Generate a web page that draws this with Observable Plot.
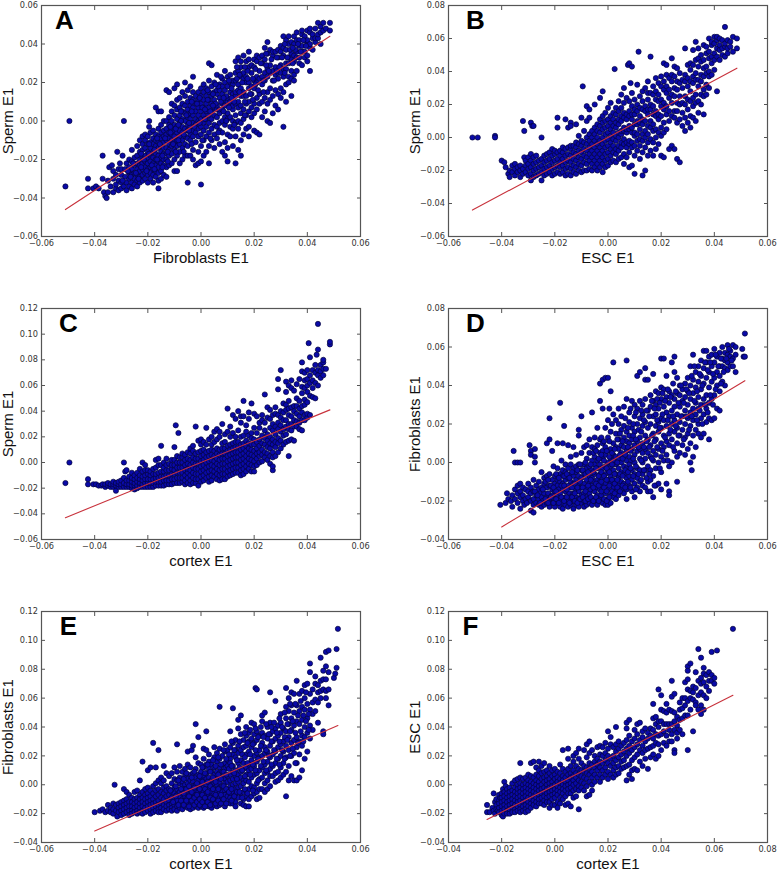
<!DOCTYPE html>
<html><head><meta charset="utf-8">
<script src="https://cdn.jsdelivr.net/npm/d3@7"></script>
<script src="https://cdn.jsdelivr.net/npm/@observablehq/plot@0.6"></script>
<style>html,body{margin:0;padding:0;background:#fff;overflow:hidden}#chart{position:relative;width:778px;height:872px}#chart svg{position:absolute;overflow:visible;background:transparent}</style>
</head><body><div id="chart"></div>
<script>
// all values are in thousandths of E1, stored as x,y,x,y,...
const pointsA=[-51,-34,-49.5,0,-42.5,-30,-42.5,-35,-40.5,-35,-39.5,-34,-38.5,-35,-37,-18,-37,-30,-36.5,-37,-36,-39,-35.5,-40,-35,-37,-35,-31,-34.5,-24,-34,-34,-33.5,-23,-33,-37,-33,-30,-33,-26,-32,-35,-32,-33,-32,-28,-31.5,-16,-31,-36,-31,-31,-31,-25,-30.5,-22,-30,-35,-30,-32,-30,-28,-30,-25,-29.5,-18,-29,-34,-29,0,-28.5,-29,-28.5,-25,-28,-36,-28,-32,-28,-22,-27,-34,-27,-30,-27,-27,-27,-24,-27,-20,-26,-35,-26,-32,-26,-28,-26,-25,-26,-21,-26,-15,-25,-33,-25,-30,-25,-27,-25,-23,-25,-19,-24,-34,-24,-31,-24,-28,-24,-25,-24,-22,-24,-18,-24,-13,-23,-32,-23,-29,-23,-26,-23,-23,-23,-20,-23,-16,-23,-10,-22,-31,-22,-28,-22,-25,-22,-22,-22,-19,-22,-15,-22,-12,-22,-8,-21,-30,-21,-27,-21,-24,-21,-21,-21,-18,-21,-14,-21,-10,-21,-7,-20,-32,-20,-28,-20,-25,-20,-22,-20,-19,-20,-16,-20,-12,-20,-8,-19.5,-3,-19.5,0,-19,-30,-19,-27,-19,-24,-19,-21,-19,-18,-19,-14,-19,-11,-19,-6,-18,-32,-18,-28,-18,-25,-18,-22,-18,-19,-18,-16,-18,-12,-18,-9,-18,-5,-17,-29,-17,-26,-17,-23,-17,-20,-17,-17,-17,-13,-17,-10,-17,-7,-17,7,-16,-35,-16,-31,-16,-27,-16,-24,-16,-21,-16,-18,-16,-14,-16,-11,-16,-8,-16,-4,-16,5,-15,-30,-15,-26,-15,-22,-15,-19,-15,-16,-15,-13,-15,-9,-15,-6,-15,-2,-15,5,-14,-28,-14,-23,-14,-20,-14,-17,-14,-14,-14,-11,-14,-8,-14,-5,-14,0,-13,-29,-13,-24,-13,-20,-13,-17,-13,-14,-13,-10,-13,-7,-13,-4,-13,0,-13,16,-12,-23,-12,-18,-12,-15,-12,-12,-12,-9,-12,-6,-12,-2,-12,2,-12,15,-11,-22,-11,-17,-11,-13,-11,-10,-11,-7,-11,-4,-11,0,-11,5,-11,9,-10,-26,-10,-20,-10,-15,-10,-11,-10,-8,-10,-5,-10,-2,-10,3,-10,8,-10,17,-9,-26,-9,-18,-9,-13,-9,-10,-9,-6,-9,-3,-9,1,-9,6,-9,11,-9,19,-8,-22,-8,-16,-8,-12,-8,-8,-8,-5,-8,-1,-8,3,-8,7,-8,12,-7,-20,-7,-14,-7,-10,-7,-6,-7,-3,-7,1,-7,5,-7,9,-7,15,-6,-18,-6,-12,-6,-8,-6,-4,-6,0,-6,4,-6,8,-6,13,-6,20,-5,-32,-5,-18,-5,-13,-5,-9,-5,-5,-5,-2,-5,2,-5,6,-5,10,-5,16,-4,-18,-4,-10,-4,-7,-4,-3,-4,1,-4,4,-4,8,-4,12,-4,18,-3,-20,-3,-15,-3,-8,-3,-5,-3,-1,-3,3,-3,7,-3,11,-3,15,-3,23,-2,-23,-2,-11,-2,-6,-2,-2,-2,1,-2,5,-2,9,-2,13,-1,-22,-1,-16,-1,-8,-1,-4,-1,0,-1,3,-1,7,-1,11,-1,15,0,-33,0,-21,0,-13,0,-7,0,-3,0,1,0,5,0,9,0,13,0,17,1,-18,1,-10,1,-5,1,-1,1,3,1,7,1,11,1,15,1,19,2,-16,2,-8,2,-3,2,1,2,5,2,9,2,13,2,17,3,-22,3,-13,3,-6,3,-1,3,3,3,7,3,11,3,15,3,21,3,30,4,-10,4,-4,4,1,4,5,4,9,4,13,4,18,4,29,5,-14,5,-7,5,-2,5,3,5,7,5,11,5,15,5,20,6,-9,6,-3,6,2,6,6,6,8,6,14,6,16,6,24,7,-12,7,-5,7,-1,7,4,7,6,7,12,7,16,7,19,8,-16,8,-6,8,0,8,6,8,9,8,14,8,18,8,22,9,-18,9,-11,9,-2,9,2,9,8,9,11,9,16,9,20,9,26,10,-21,10,-14,10,-7,10,1,10,4,10,10,10,12,10,18,10,23,11,-8,11,-3,11,2,11,8,11,10,11,15,11,20,11,24,12,-13,12,-4,12,0,12,6,12,8,12,14,12,19,12,21,13,-22,13,-8,13,-1,13,3,13,9,13,13,13,15,13,21,13,25,13,31,14,-15,14,-4,14,0,14,7,14,10,14,16,14,19,14,26,14,33,15,-18,15,-10,15,-1,15,4,15,8,15,13,15,17,15,23,15,28,15,31,16,-7,16,1,16,6,16,13,16,15,16,22,16,25,16,34,17,-4,17,3,17,9,17,13,17,20,17,23,17,31,18,-8,18,-3,18,5,18,10,18,17,18,20,18,28,18,32,18,36,19,2,19,7,19,14,19,18,19,25,19,29,20,-5,20,4,20,9,20,17,20,21,20,28,20,32,21,-6,21,6,21,12,21,20,21,23,21,31,21,34,22,-7,22,9,22,14,22,22,22,26,22,33,23,2,23,10,23,19,23,23,23,30,23,34,24,5,24,12,24,21,24,25,24,32,24,38,25,0,25,9,25,15,25,23,25,27,25,35,25,41,26,-1,26,11,26,17,26,25,26,29,26,37,27,4,27,13,27,21,27,26,27,34,27,36,28,8,28,16,28,24,28,28,28,36,29,6,29,14,29,22,29,25,29,33,29,37,30,12,30,17,30,25,30,29,30,36,30,39,31,-3,31,15,31,23,31,27,31,34,31,38,31,44,32,10,32,19,32,27,32,30,32,37,32,42,33,20,33,23,33,30,33,33,33,40,33,44,34,13,34,22,34,26,34,32,34,35,34,41,35,21,35,24,35,31,35,34,35,40,35,44,36,26,36,33,36,36,36,42,36,46,37,30,37,33,37,39,37,42,38,29,38,36,38,39,38,45,38,47,39,33,39,36,39,42,39,44,40,31,40,34,40,40,40,42,40,47,41,26,41,38,41,40,41,46,41,48,42,37,42,43,42,45,43,41,43,43,43,48,44,43,44,45,44,51,45,40,45,46,45,49,46,47,46,51,47,48,48.5,47,48.5,51];
const extraA=[-29.5,-31,-27.5,-26,-26.5,-29,-25.5,-22,-24.5,-27,-23.5,-30,-22.5,-24,-21.5,-20,-20.5,-26,-19.5,-17,-18.5,-23,-17.5,-15,-16.5,-20,-15.5,-12,-14.5,-18,-13.5,-9,-12.5,-16,-11.5,-6,-10.5,-12,-9.5,-4,-8.5,-10,-7.5,0,-6.5,-7,-5.5,3,-4.5,-5,-3.5,5,-2.5,-3,-1.5,9,-0.5,-1,0.5,7,1.5,1,2.5,11,3.5,5,4.5,14,5.5,9,6.5,18,7.5,10,8.5,5,9.5,13,10.5,7,11.5,17,12.5,10,13.5,22,14.5,15,15.5,20,16.5,10,17.5,26,18.5,14,19.5,22,20.5,27,21.5,16,22.5,30,23.5,21,24.5,35,25.5,26,26.5,32,27.5,21,28.5,33,29.5,28,30.5,33,31.5,40,32.5,33,33.5,37,34.5,30,35.5,37,36.5,40,37.5,36,38.5,42,39.5,39,-17.5,-25,-14.5,-24,-12.5,-21,-9.5,-16,-6.5,-16,-3.5,-12,0.5,-10,3.5,-9,6.5,-6,9.5,0,12.5,-2,16.5,3,19.5,11,23.5,15,-19.5,-12,-16.5,-9,-11.5,-3,-7.5,5,-3.5,10,-0.5,12,2.5,16,5.5,19,7.5,23,10.5,21,13.5,28,16.5,28,-22.5,-17,-8.5,-2,-4.5,-1,1.5,6,4.5,8,8.5,12,11.5,12,14.5,24,17.5,22,20.5,19,24.5,29,28.5,26,31.5,25,34.5,38];
const pointsB=[-51,0,-49,0,-42.5,1,-42.5,0,-40,-14,-39,-15,-38.5,-18,-37.5,-22,-37,-24,-37,-20,-36,-17,-36,-21,-35,-23,-35,-19,-35,-16,-34,-21,-34,-18,-33,-24,-33,-20,-33,-17,-32,-22,-32,-19,-32,10,-31.5,-12,-31.5,4,-31,-21,-31,-17,-31,-14,-30,-23,-30,-19,-30,-16,-30,-12,-29,-26,-29,-22,-29,-18,-29,-14,-29,-10,-29,9,-28.5,7,-28,-24,-28,-20,-28,-16,-28,-12,-28,7,-27,-23,-27,-19,-27,-15,-27,-11,-26,-22,-26,-18,-26,-14,-25,-26,-25,-21,-25,-17,-25,-13,-25,0,-24,-23,-24,-19,-24,-15,-24,-11,-23,-22,-23,-18,-23,-14,-23,-10,-22,-21,-22,-17,-22,-13,-22,-9,-21,-23,-21,-19,-21,-15,-21,-11,-21,-7,-20,-22,-20,-18,-20,-14,-20,-10,-20,-8,-19,-21,-19,-17,-19,-13,-19,-9,-19,6,-19,12,-18,-22,-18,-18,-18,-15,-18,-11,-18,-8,-17,-21,-17,-17,-17,-13,-17,-9,-17,-6,-16,-23,-16,-19,-16,-15,-16,-11,-16,-7,-16,11,-15,-22,-15,-18,-15,-14,-15,-10,-15,-6,-15,6,-14,-23,-14,-19,-14,-15,-14,-11,-14,-7,-14,-5,-14,9,-14,7,-13,-21,-13,-17,-13,-13,-13,-9,-13,-5,-12,-22,-12,-18,-12,-14,-12,-10,-12,-6,-12,-3,-12,8,-11,-20,-11,-16,-11,-12,-11,-8,-11,-4,-11,1,-10,-21,-10,-17,-10,-13,-10,-9,-10,-5,-10,-2,-10,12,-9.5,31,-9,-20,-9,-15,-9,-11,-9,-7,-9,-3,-9,4,-8,-20,-8,-16,-8,-12,-8,-8,-8,-4,-8,0,-8,10,-8,19,-7,-19,-7,-14,-7,-10,-7,-6,-7,-2,-7,2,-7,17,-7,12,-6,-20,-6,-16,-6,-12,-6,-8,-6,-4,-6,0,-6,4,-5,-18,-5,-14,-5,-10,-5,-6,-5,-2,-5,2,-5,6,-5,20,-4,-20,-4,-16,-4,-12,-4,-8,-4,-4,-4,0,-4,4,-4,8,-3,-18,-3,-14,-3,-10,-3,-6,-3,-2,-3,3,-3,7,-3,11,-3,24,-2,-21,-2,-16,-2,-12,-2,-8,-2,-4,-2,0,-2,5,-2,9,-2,13,-2,28,-1,-18,-1,-14,-1,-10,-1,-6,-1,-2,-1,2,-1,6,-1,10,-1,15,0,-17,0,-13,0,-9,0,-5,0,-1,0,3,0,7,0,11,0,18,1,-15,1,-11,1,-7,1,-3,1,1,1,5,1,9,1,13,1,21,2,-14,2,-9,2,-5,2,-1,2,3,2,7,2,11,2,15,2.5,41.5,3,-15,3,-10,3,-7,3,-2,3,1,3,6,3,9,3,14,3,18,4,-13,4,-8,4,-5,4,0,4,3,4,8,4,11,4,16,4,22,5,-12,5,-6,5,-3,5,2,5,4,5,10,5,13,5,18,5,26,6,-16,6,-10,6,-4,6,-1,6,4,6,6,6,12,6,15,6,21,6,30,7,-12,7,-6,7,-3,7,3,7,5,7,11,7,14,7,24,7.5,44,8,-18,8,-9,8,-4,8,-2,8,5,8,7,8,13,8,16,8,22,8,45,8.5,33,9,-17,9,-6,9,-3,9,3,9,6,9,11,9,14,9,19,9,27,9,43,10,-22,10,-11,10,-5,10,1,10,3,10,8,10,14,10,17,10,23,11,-8,11,-2,11,2,11,8,11,10,11,16,11,20,11,32,11.5,52,12,-13,12,-5,12,-1,12,5,12,9,12,13,12,18,12,25,13,-23,13,-9,13,-2,13,2,13,8,13,11,13,17,13,22,13,28,14,-20,14,-6,14,0,14,4,14,10,14,16,14,19,14,30,15,-11,15,-3,15,2,15,7,15,14,15,17,15,23,15,27,15,34,16,-8,16,-1,16,6,16,10,16,17,16,20,16,27,16,49,17,-11,17,-3,17,4,17,8,17,14,17,19,17,26,17,31,18,-7,18,0,18,5,18,13,18,16,18,23,18,28,18,36,19,-4,19,3,19,11,19,14,19,22,19,26,19,33,20,-11,20,1,20,6,20,13,20,19,20,23,20,31,20,37,21,-12,21,3,21,9,21,17,21,21,21,29,21,34,21,45,22,5,22,14,22,19,22,27,22,31,22,38,22,44,23,-7,23,10,23,16,23,24,23,29,23,36,24,-5,24,13,24,21,24,26,24,34,24,38,24,48,25,-7,25,12,25,16,25,25,25,30,25,37,25,43,26,-13,26,9,26,16,26,21,26,29,26,34,26,42,27,-15,27,11,27,20,27,25,27,33,27,39,28,7,28,15,28,21,28,30,28,35,29,4,29,12,29,20,29,25,29,34,29,38,29,54,30,9,30,17,30,23,30,31,30,36,30,44,31,6,31,13,31,22,31,28,31,34,31,41,31,45,32,12,32,19,32,24,32,33,32,37,32,44,32,53,33,10,33,21,33,26,33,35,33,39,33,47,33,58,34,15,34,22,34,31,34,35,34,43,34,48,34,54,35,20,35,26,35,34,35,38,35,46,35,50,36,14,36,25,36,29,36,37,36,42,36,47,36,56,37,26,37,32,37,39,37,43,37,51,37,55,38,30,38,37,38,40,38,48,38,52,38,60,39,38,39,45,39,49,39,56,39,58,40,41,40,47,40,51,40,57,40,61,41,28,41,49,41,54,41,59,41,61,42,47,42,53,42,56,42,60,43,50,43,54,43,59,44,49,44,55,44,57,44,67,45,51,45,54,45,59,46,55,46,58,47,52,47,61,48.5,54,48.5,60];
const pointsC=[-51,-16,-49.5,0,-42.5,-13,-42.5,-17,-40.5,-17,-39.5,-17,-38.5,-18,-37.5,-18,-37,-17,-36,-19,-36,-17,-35,-18,-35,-16,-34,-19,-34,-17,-33,-19,-33,-17,-33,-15,-32,-22,-32,-18,-32,-16,-31,-19,-31,-17,-31,-15,-30,-19,-30,-17,-30,-14,-29,-19,-29,-16,-29,-12,-29,0,-28.5,-7,-28,-19,-28,-17,-28,-14,-28,-6,-27,-19,-27,-17,-27,-14,-27,-11,-26,-20,-26,-18,-26,-15,-26,-12,-26,-8,-25,-21,-25,-18,-25,-16,-25,-13,-25,-10,-24,-20,-24,-18,-24,-15,-24,-12,-24,-8,-23,-19,-23,-16,-23,-13,-23,-10,-23,-5,-22,-19,-22,-17,-22,-14,-22,-11,-22,-7,-22,0,-21,-19,-21,-16,-21,-13,-21,-10,-21,-6,-21,-2,-20,-19,-20,-16,-20,-13,-20,-9,-20,-6,-19,-19,-19,-16,-19,-13,-19,-10,-19,-7,-18,-19,-18,-16,-18,-13,-18,-9,-18,-5,-17,-18,-17,-15,-17,-12,-17,-9,-17,-4,-17,2,-16,-18,-16,-15,-16,-12,-16,-8,-16,-2,-16,3,-15,-18,-15,-15,-15,-11,-15,-7,-15,-2,-15,13,-14,-18,-14,-14,-14,-11,-14,-7,-14,-4,-14,0,-13,-17,-13,-14,-13,-10,-13,-6,-13,-2,-13,3,-12,-17,-12,-14,-12,-10,-12,-6,-12,-1,-11,-17,-11,-13,-11,-9,-11,-5,-11,-2,-11,2,-10,-16,-10,-13,-10,-9,-10,-6,-10,-2,-10,2,-10,12,-9.5,29,-9,-16,-9,-12,-9,-8,-9,-4,-9,0,-9,5,-8.5,23,-8,-16,-8,-12,-8,-8,-8,-4,-8,0,-8,4,-7,-15,-7,-12,-7,-8,-7,-4,-7,0,-7,4,-7,7,-6,-17,-6,-14,-6,-10,-6,-6,-6,-2,-6,2,-6,6,-5,-16,-5,-12,-5,-8,-5,-5,-5,-1,-5,3,-5,8,-4,-17,-4,-14,-4,-10,-4,-6,-4,-2,-4,2,-4,7,-4,11,-3,-16,-3,-12,-3,-8,-3,-4,-3,0,-3,4,-3,9,-3,13,-2,-16,-2,-13,-2,-9,-2,-5,-2,-1,-2,3,-2,7,-2,28,-1,-18,-1,-13,-1,-9,-1,-5,-1,-1,-1,3,-1,8,-1,17,0,-15,0,-11,0,-7,0,-3,0,1,0,5,0,9,0,14,0,18,1,-14,1,-10,1,-6,1,-2,1,2,1,6,1,10,1,16,2,-12,2,-8,2,-4,2,0,2,4,2,8,2,14,2,27,3,-15,3,-11,3,-7,3,-3,3,1,3,5,3,9,3,18,4,-14,4,-10,4,-6,4,-2,4,2,4,6,4,10,4,14,4,20,5,-11,5,-7,5,-3,5,1,5,5,5,9,5,16,5,24,6,-13,6,-9,6,-5,6,-1,6,3,6,7,6,11,6,18,6,26,7,-14,7,-10,7,-6,7,-2,7,2,7,6,7,10,7,20,7,24,8,-13,8,-9,8,-5,8,-1,8,3,8,7,8,11,8,15,8,30,9,-13,9,-9,9,-5,9,-1,9,3,9,7,9,11,9,16,9,22,10,-11,10,-7,10,-3,10,1,10,5,10,9,10,13,10,24,10,42,11,-10,11,-6,11,-2,11,2,11,6,11,10,11,14,11,20,11,28,12,-9,12,-5,12,-1,12,3,12,7,12,11,12,15,12,23,12,37,13,-8,13,-4,13,0,13,4,13,8,13,12,13,16,13,20,13,34,14,-8,14,-4,14,0,14,4,14,8,14,12,14,16,14,25,14,40,15,-10,15,-6,15,-2,15,2,15,6,15,10,15,14,15,20,15,31,15,36,16,-9,16,-5,16,-1,16,3,16,7,16,11,16,15,16,21,16,36,16,48,17,-7,17,-3,17,1,17,5,17,9,17,13,17,17,17,24,17,29,18,-5,18,-1,18,3,18,7,18,11,18,15,18,21,18,34,18,39,19,-7,19,-2,19,2,19,6,19,10,19,14,19,19,19,23,19,46,20,-7,20,-3,20,1,20,5,20,9,20,14,20,18,20,27,20,38,21,-2,21,3,21,7,21,11,21,16,21,23,21,36,22,0,22,5,22,8,22,13,22,18,22,27,22,31,23,1,23,6,23,10,23,15,23,21,23,33,23,37,24,4,24,8,24,14,24,19,24,25,24,31,24,53,25,2,25,7,25,12,25,17,25,22,25,35,25,43,26,-1,26,5,26,11,26,15,26,20,26,27,26,34,26,41,27,-6,27,-3,27,4,27,8,27,14,27,18,27,25,27,30,27,37,28,5,28,12,28,16,28,22,28,28,28,38,28,43,29,8,29,15,29,19,29,26,29,31,29,37,29,57,29,65,30,11,30,17,30,24,30,29,30,35,30,40,30,72,31,14,31,21,31,26,31,33,31,39,31,46,32,16,32,22,32,28,32,33,32,41,32,45,32,55,32,63,33,5,33,17,33,26,33,30,33,37,33,42,33,48,33,60,34,18,34,25,34,30,34,36,34,43,34,58,34,64,35,17,35,28,35,33,35,40,35,44,35,56,36,28,36,32,36,38,36,44,36,50,36,61,37,26,37,31,37,36,37,42,37,48,37,65,38,25,38,33,38,39,38,44,38,54,38,59,38,71,38,78,39,33,39,37,39,45,39,49,39,58,39,64,39,70,40,35,40,38,40,47,40,55,40,60,40,65,40,72,40.5,93,41,37,41,52,41,62,41,68,41,82,42,51,42,58,42,64,42,72,43,50,43,62,43,70,43,76,43.5,84,44,60,44,68,44,72,44,88,44,108,45,66,45,71,45,76,46,68,46,73,46,78,46,80,47,73,48.5,92,48.5,94];
const pointsD=[-40.5,-22,-38.5,-21,-38,-16,-37.5,-19,-36.5,-20,-36,-23,-36,-17,-35.5,6,-35,-19,-35,-14,-35,0,-34,-21,-34,-16,-34,-12,-34,0,-33,-24,-33,-18,-33,-15,-33,-11,-33,0,-32,-20,-32,-17,-32,-13,-31.5,-22,-31,-19,-31,-14,-30.5,-21,-30,-18,-30,-15,-30,-11,-29.5,9,-29,-25,-29,-20,-29,-16,-29,-13,-29,6,-29,4,-28,-26,-28,-22,-28,-19,-28,-15,-28,-9,-27.5,7,-27.5,0,-27.5,3,-27,-21,-27,-17,-27,-12,-26,-22,-26,-19,-26,-14,-26,-10,-25.5,-16,-25,-23,-25,-18,-25,-13,-25,-5,-24.5,-20,-24,-22,-24,-16,-24,-11,-24,-8,-23,-21,-23,-18,-23,-13,-23,-7,-23,10,-22.5,-16,-22,-23,-22,-19,-22,-12,-22,-6,-22,12,-22,23,-21,-21,-21,-17,-21,-14,-21,-9,-21,6,-20.5,-2,-20,-23,-20,-19,-20,-15,-20,-11,-20,-7,-19,-21,-19,-17,-19,-12,-19,-9,-19,-3,-19,10,-18.5,-14,-18,-23,-18,-19,-18,-16,-18,-10,-18,-6,-18,31,-17.5,1,-17,-24,-17,-21,-17,-14,-17,-11,-17,-7,-17,-4,-17,10,-16.5,19,-16,-22,-16,-18,-16,-15,-16,-9,-16,-5,-16,-1,-15,-23,-15,-20,-15,-12,-15,-8,-15,-3,-15,9,-14.5,-16,-14,-22,-14,-18,-14,-13,-14,-10,-14,-6,-14,-1,-14,3,-13,-24,-13,-20,-13,-16,-13,-11,-13,-7,-13,-3,-13,8,-12,-22,-12,-18,-12,-14,-12,-9,-12,-5,-12,-2,-12,4,-11,-23,-11,-19,-11,-15,-11,-11,-11,-7,-11,-1,-11,17,-11,14,-10,-21,-10,-17,-10,-13,-10,-8,-10,-4,-10,24,-10,5,-9,-23,-9,-20,-9,-16,-9,-11,-9,-6,-9,-1,-9,8,-8,-22,-8,-18,-8,-13,-8,-9,-8,-3,-8,2,-8,9,-7,-21,-7,-16,-7,-11,-7,-7,-7,-2,-7,5,-7,12,-6.5,-14,-6,-22,-6,-19,-6,-12,-6,-8,-6,-4,-6,1,-6,8,-6,26,-5,-20,-5,-15,-5,-10,-5,-6,-5,-1,-5,3,-5,7,-5,13,-4,-22,-4,-17,-4,-13,-4,-9,-4,-3,-4,1,-4,9,-4,18,-3,-19,-3,-14,-3,-10,-3,-6,-3,-1,-3,5,-3,12,-3,32,-3,41,-2.5,-17,-2,-21,-2,-12,-2,-8,-2,-3,-2,2,-2,6,-2,10,-2,28,-2,43,-1,-22,-1,-16,-1,-11,-1,-6,-1,-2,-1,4,-1,8,-1,18,-1,44,0,-22,0,-19,0,-14,0,-9,0,-4,0,0,0,6,0,13,0,22,0,44,0.5,28,1,-21,1,-17,1,-11,1,-7,1,-2,1,2,1,7,1,16,1,37,2,-18,2,-13,2,-9,2,-4,2,1,2,4,2,10,2,25,2,52,3,-19,3,-15,3,-11,3,-6,3,-1,3,3,3,8,3,15,3,22,4,-17,4,-12,4,-8,4,-3,4,2,4,7,4,12,4,20,4,28,5,-14,5,-10,5,-5,5,0,5,5,5,9,5,17,5,24,6,-16,6,-11,6,-6,6,-2,6,3,6,8,6,13,6,19,6,29,7,-19,7,-14,7,-8,7,-3,7,1,7,6,7,11,7,16,7,33,7,53,8,-12,8,-7,8,-1,8,3,8,10,8,14,8,21,8,26,9,-15,9,-9,9,-4,9,1,9,7,9,12,9,18,9,32,10,-18,10,-11,10,-6,10,0,10,4,10,9,10,16,10,24,10,30,11,-13,11,-8,11,-3,11,6,11,11,11,20,11,28,11,45,12,-15,12,-10,12,-4,12,2,12,7,12,13,12,23,12,32,12,47,13,-12,13,-6,13,0,13,5,13,10,13,19,13,25,13,30,14,-13,14,-4,14,2,14,7,14,14,14,21,14,33,14,43,14,49,15,-15,15,-10,15,-2,15,5,15,12,15,18,15,27,15,43,16,-9,16,-15,16,-4,16,3,16,9,16,20,16,29,16,35,17,-18,17,-7,17,1,17,6,17,15,17,24,17,32,17,46,18,-12,18,-3,18,4,18,12,18,19,18,25,18,30,18,37,19,-11,19,0,19,7,19,16,19,21,19,28,19,36,20,-14,20,-5,20,3,20,10,20,18,20,23,20,33,20,39,20,54,21,1,21,8,21,14,21,22,21,29,21,38,21,54,22,-11,22,4,22,11,22,19,22,26,22,34,22,45,23,-15,23,-17,23,-2,23,9,23,15,23,24,23,31,23,37,24,0,24,12,24,20,24,27,24,35,24,52,25,6,25,16,25,22,25,29,25,33,25,47,25,55,26,-10,26,3,26,10,26,18,26,25,26,36,26,44,27,5,27,14,27,21,27,29,27,35,27,40,28,9,28,17,28,24,28,32,28,38,29,4,29,13,29,20,29,27,29,34,29,41,30,7,30,15,30,23,30,30,30,37,30,44,31,0,31,10,31,19,31,26,31,33,31,40,31,50,31.5,-4,32,3,32,14,32,22,32,28,32,36,32,43,32,56,33,8,33,17,33,25,33,31,33,39,33,47,34,15,34,20,34,28,34,34,34,42,34,50,35,13,35,23,35,30,35,38,35,45,35,53,36,15,36,25,36,33,36,41,36,49,36,58,37,21,37,28,37,35,37,44,37,52,37,58,38,12,38,23,38,31,38,39,38,47,38,55,39,22,39,33,39,42,39,50,39,56,40,23,40,35,40,44,40,52,40,59,41,28,41,40,41,47,41,55,42,27,42,37,42,45,42,50,42,57,43,42,43,50,43,54,43,60,44,40,44,49,44,53,44,57,45,48,45,52,45,56,45,61,46,50,46,55,46,58,47,50,47,54,47,61,48,47,48,56,48,60,50.5,59,51,55,51.5,55,51.5,67];
const extraD=[-27.5,-15,-26.5,-17,-25.5,-21,-24.5,-14,-23.5,-19,-23.5,-10,-22.5,-21,-22.5,-9,-21.5,-18,-21.5,-12,-20.5,-21,-20.5,-13,-19.5,-19,-19.5,-15,-19.5,-6,-18.5,-21,-18.5,-8,-17.5,-18,-17.5,-12,-16.5,-20,-16.5,-12,-16.5,-7,-15.5,-18,-15.5,-14,-15.5,-6,-14.5,-21,-14.5,-8,-13.5,-18,-13.5,-13,-13.5,-5,-12.5,-20,-12.5,-16,-12.5,-11,-11.5,-21,-11.5,-13,-11.5,-4,-10.5,-19,-10.5,-10,-10.5,-1,-9.5,-18,-9.5,-13,-9.5,-4,-8.5,-20,-8.5,-15,-8.5,-6,-8.5,0,-7.5,-19,-7.5,-12,-7.5,-5,-6.5,-18,-6.5,-9,-6.5,-1,-5.5,-20,-5.5,-13,-5.5,-5,-5.5,5,-4.5,-18,-4.5,-11,-4.5,-3,-4.5,6,-3.5,-20,-3.5,-12,-3.5,-7,-3.5,2,-2.5,-15,-2.5,-10,-2.5,-5,-2.5,4,-2.5,13,-1.5,-19,-1.5,-13,-1.5,-7,-1.5,1,-1.5,11,-0.5,-20,-0.5,-15,-0.5,-9,-0.5,-3,-0.5,6,0.5,-18,0.5,-12,0.5,-5,0.5,3,0.5,11,1.5,-15,1.5,-9,1.5,-1,1.5,5,1.5,20,2.5,-16,2.5,-11,2.5,-6,2.5,7,3.5,-13,3.5,-9,3.5,0,3.5,12,4.5,-15,4.5,-6,4.5,4,4.5,15,5.5,-12,5.5,-7,5.5,2,5.5,11,6.5,-13,6.5,-4,6.5,4,6.5,23,7.5,-10,7.5,-5,7.5,8,7.5,18,8.5,-13,8.5,-3,8.5,6,8.5,28,9.5,-7,9.5,2,9.5,14,9.5,20,10.5,-14,10.5,-2,10.5,12,10.5,26,11.5,-6,11.5,8,11.5,17,12.5,-9,12.5,1,12.5,16,12.5,27,13.5,-4,13.5,8,13.5,22,14.5,-8,14.5,11,14.5,27,15.5,-6,15.5,8,15.5,24,16.5,2,16.5,14,16.5,32,17.5,-12,17.5,11,17.5,28,18.5,8,18.5,22,18.5,33,19.5,-3,19.5,18,19.5,31,20.5,6,20.5,25,20.5,36,21.5,13,21.5,32,22.5,1,22.5,22,22.5,38,23.5,17,23.5,34,24.5,8,24.5,24,24.5,41,25.5,19,25.5,37,26.5,14,26.5,31,27.5,24,27.5,40,28.5,12,28.5,31,29.5,24,29.5,38,30.5,17,30.5,36,31.5,24,31.5,45,32.5,32,32.5,50,33.5,22,33.5,37,34.5,27,34.5,46,35.5,20,35.5,40,36.5,30,36.5,52,37.5,26,37.5,48,38.5,35,38.5,52,39.5,30,39.5,46,40.5,38,40.5,56,41.5,50,42.5,41,42.5,54,43.5,47,44.5,54,45.5,59,46.5,53];
const pointsE=[-40,-19,-38,-18,-37,-17,-36,-19,-35,-14,-35,-18,-34,-16,-34,-19,-33,-13,-33,-17,-33,-20,-32.5,0,-32,-14,-32,-18,-31.5,-22,-31,-13,-31,-16,-31,-19,-30,-12,-30,-15,-30,-18,-30,-21,-29,-3,-29,-11,-29,-14,-29,-17,-29,-20,-28,-5,-28,-10,-28,-13,-28,-16,-28,-19,-27,-7,-27,-12,-27,-15,-27,-18,-27,-21,-26,-9,-26,-12,-26,-15,-26,-18,-26,-20,-25,-5,-25,-10,-25,-13,-25,-16,-25,-19,-24,-4,-24,-9,-24,-12,-24,-15,-24,-18,-24,-20,-23,-7,-23,-10,-23,-13,-23,-16,-23,-19,-23,3,-22,16,-22,-5,-22,-9,-22,-12,-22,-15,-22,-18,-22,-20,-21,-3,-21,-7,-21,-10,-21,-13,-21,-16,-21,-19,-20,-6,-20,-9,-20,-12,-20,-15,-20,-18,-20,-2,-20,10,-19,-4,-19,-8,-19,-11,-19,-14,-19,-17,-19,-20,-19,12,-18,29,-18,-1,-18,-6,-18,-10,-18,-13,-18,-16,-18,-19,-17,1,-17,-4,-17,-8,-17,-12,-17,-15,-17,-18,-17,12,-16,24,-16,3,-16,-3,-16,-7,-16,-11,-16,-14,-16,-17,-16,-19,-15,5,-15,1,-15,-5,-15,-9,-15,-13,-15,-16,-15,-19,-14,3,-14,-2,-14,-6,-14,-10,-14,-14,-14,-17,-14,13,-13,-1,-13,-4,-13,-8,-13,-12,-13,-15,-13,-18,-13,8,-12,6,-12,-3,-12,-7,-12,-11,-12,-14,-12,-17,-11,8,-11,1,-11,-5,-11,-9,-11,-13,-11,-16,-11,-18,-10,12,-10,4,-10,-2,-10,-6,-10,-10,-10,-14,-10,-17,-9,28,-9,9,-9,3,-9,-3,-9,-7,-9,-11,-9,-15,-9,-18,-8,13,-8,5,-8,1,-8,-5,-8,-8,-8,-13,-8,-16,-7,9,-7,2,-7,-1,-7,-6,-7,-10,-7,-13,-7,-17,-6,11,-6,6,-6,0,-6,-3,-6,-8,-6,-11,-6,-15,-5,23,-5,14,-5,4,-5,1,-5,-5,-5,-9,-5,-12,-5,-16,-4,12,-4,7,-4,3,-4,-3,-4,-6,-4,-11,-4,-14,-4,-17,-3.5,24,-3,27,-3,8,-3,2,-3,-1,-3,-7,-3,-9,-3,-13,-3,-16,-2,42,-2,19,-2,11,-2,5,-2,0,-2,-4,-2,-7,-2,-12,-2,-15,-1,33,-1,15,-1,7,-1,3,-1,-2,-1,-5,-1,-10,-1,-13,-1,-16,0,14,0,9,0,5,0,0,0,-4,0,-8,0,-11,0,-15,1,25,1,18,1,12,1,6,1,3,1,-2,1,-5,1,-10,1,-13,1,-16,2,37,2,24,2,14,2,8,2,4,2,0,2,-6,2,-9,2,-14,3,21,3,16,3,11,3,5,3,2,3,-3,3,-7,3,-11,3,-15,4,14,4,9,4,3,4,0,4,-5,4,-8,4,-13,4,-16,5,26,5,19,5,12,5,7,5,1,5,-3,5,-6,5,-11,5,-14,6,22,6,16,6,9,6,4,6,0,6,-4,6,-8,6,-12,6,-15,7,54,7,25,7,18,7,12,7,8,7,2,7,-2,7,-6,7,-9,7,-14,8,20,8,14,8,9,8,5,8,-1,8,-5,8,-9,8,-12,9,28,9,23,9,15,9,11,9,4,9,1,9,-4,9,-7,9,-12,9,-15,10,24,10,17,10,13,10,6,10,2,10,-3,10,-8,10,-11,11,37,11,26,11,18,11,15,11,7,11,3,11,-1,11,-6,11,-9,11,-13,12,53,12,29,12,21,12,13,12,9,12,4,12,0,12,-5,12,-10,12,-13,13,31,13,24,13,19,13,10,13,6,13,1,13,-3,13,-7,13,-12,13,-15,14,45,14,39,14,27,14,22,14,15,14,7,14,2,14,-2,14,-9,15,48,15,35,15,24,15,17,15,9,15,5,15,-1,15,-6,15,-13,16,31,16,26,16,15,16,11,16,3,16,1,16,-5,16,-10,16,-14,17,40,17,34,17,27,17,21,17,12,17,7,17,3,17,-4,17,-8,17,-15,18,36,18,30,18,23,18,14,18,10,18,2,18,-3,18,-10,18,-15,19,43,19,32,19,26,19,17,19,11,19,5,19,-1,19,-8,20,42,20,35,20,29,20,20,20,13,20,7,20,-2,20,-6,20.5,67,21,66,21,37,21,31,21,22,21,16,21,8,21,1,21,-5,21,-10,22,34,22,24,22,19,22,10,22,4,22,-3,22,-9,23,48,23,44,23,36,23,29,23,20,23,12,23,5,23,-3,24,50,24,34,24,26,24,22,24,14,24,8,24,1,24,-5,25,40,25,32,25,23,25,16,25,9,25,3,25,-3,26,64,26,43,26,35,26,27,26,19,26,11,26,6,26,-1,27,37,27,30,27,21,27,13,27,6,28,58,28,39,28,32,28,23,28,15,28,8,28,2,29,41,29,34,29,26,29,18,29,9,29,3,30,49,30,43,30,36,30,28,30,20,30,12,30,5,31,39,31,30,31,23,31,15,31,7,32,67,32,54,32,46,32,37,32,27,32,19,32,9,32,-8,33,60,33,51,33,42,33,33,33,24,33,13,33,3,34,64,34,55,34,46,34,38,34,29,34,20,34,6,35,63,35,50,35,41,35,31,35,22,35,3,36,72,36,55,36,44,36,33,36,26,36,15,36,3,37,63,37,51,37,42,37,30,37,21,37,5,38,65,38,54,38,45,38,34,38,27,38,10,39,69,39,60,39,52,39,40,39,33,39,18,40,70,40,56,40,46,40,36,40,23,41,84,41,78,41,63,41,52,41,41,41,32,42,66,42,57,42,49,42,38,43,75,43,70,43,59,43,51,44,69,44,64,44,57,44,43,45,88,45,72,45,65,45,60,46,79,46,73,46,66,46,37,46,35,47,92,47,82,47,73,47,65,47,60,48,93,48,78,48,66,48,55,50,74,50.5,77,51,94,51,81,51.5,108];
const extraE=[-11.5,-4,-10.5,-12,-9.5,-1,-9.5,-8,-8.5,-14,-8.5,3,-7.5,-3,-7.5,-11,-6.5,4,-6.5,-6,-6.5,-14,-5.5,8,-5.5,-3,-5.5,-11,-4.5,-1,-4.5,-8,-4.5,-15,-3.5,5,-3.5,-5,-3.5,-11,-2.5,9,-2.5,-2,-2.5,-9,-2.5,-14,-1.5,1,-1.5,-7,-1.5,-12,-0.5,6,-0.5,-3,-0.5,-10,-0.5,-14,0.5,12,0.5,2,0.5,-7,0.5,-12,1.5,8,1.5,-3,1.5,-9,1.5,-15,2.5,14,2.5,2,2.5,-5,2.5,-12,3.5,9,3.5,-1,3.5,-9,3.5,-14,4.5,17,4.5,5,4.5,-3,4.5,-10,5.5,13,5.5,2,5.5,-7,5.5,-13,6.5,19,6.5,7,6.5,-3,6.5,-11,7.5,14,7.5,4,7.5,-7,7.5,-13,8.5,24,8.5,9,8.5,-1,8.5,-10,9.5,18,9.5,7,9.5,-3,9.5,-13,10.5,21,10.5,11,10.5,-5,11.5,30,11.5,13,11.5,-3,11.5,-11,12.5,24,12.5,8,12.5,-8,13.5,17,13.5,4,13.5,-5,14.5,30,14.5,12,14.5,-5,15.5,21,15.5,10,15.5,-9,16.5,36,16.5,19,16.5,6,16.5,-3,17.5,29,17.5,15,17.5,-6,18.5,38,18.5,21,18.5,7,19.5,28,19.5,14,19.5,-4,20.5,39,20.5,24,20.5,10,21.5,33,21.5,18,21.5,3,22.5,40,22.5,27,22.5,13,23.5,33,23.5,16,24.5,42,24.5,24,24.5,10,25.5,35,25.5,20,26.5,40,26.5,30,26.5,14,27.5,43,27.5,24,28.5,36,28.5,18,29.5,46,29.5,30,29.5,14,30.5,40,30.5,24,31.5,50,31.5,33,31.5,18,32.5,42,32.5,31,33.5,56,33.5,37,33.5,20,34.5,44,34.5,25,35.5,56,35.5,36,35.5,15,36.5,48,36.5,29,37.5,58,37.5,37,38.5,48,38.5,30,39.5,64,39.5,44,40.5,49,40.5,38];
const pointsF=[-25.5,-14,-25.5,-19,-24.5,-19,-23.5,-16,-23,-6,-23,-18,-22.5,-12,-22.5,-20,-22,-10,-22,-14,-22,-17,-21.5,-18,-21,-7,-21,-11,-21,-13,-21,-16,-21,-19,-20.5,-9,-20,-6,-20,-9,-20,-12,-20,-15,-20,-18,-20,-21,-19.5,-3,-19.5,-22,-19,2,-19,-5,-19,-8,-19,-11,-19,-14,-19,-17,-19,-20,-18.5,-1,-18,-3,-18,-6,-18,-9,-18,-12,-18,-15,-18,-18,-18,-20,-17,-2,-17,-5,-17,-8,-17,-11,-17,-14,-17,-17,-17,-20,-16,1,-16,-4,-16,-7,-16,-10,-16,-13,-16,-16,-16,-19,-15,3,-15,-2,-15,-5,-15,-8,-15,-11,-15,-14,-15,-17,-15,-19,-14,4,-14,0,-14,-3,-14,-6,-14,-9,-14,-12,-14,-15,-14,-18,-13,15,-13,5,-13,1,-13,-2,-13,-5,-13,-8,-13,-11,-13,-14,-13,-17,-13,-19,-12,4,-12,0,-12,-3,-12,-6,-12,-9,-12,-12,-12,-15,-12,-18,-11,5,-11,1,-11,-2,-11,-5,-11,-8,-11,-11,-11,-14,-11,-17,-11,-19,-10,7,-10,3,-10,0,-10,-3,-10,-6,-10,-9,-10,-12,-10,-15,-10,-18,-9,15,-9,6,-9,2,-9,-1,-9,-4,-9,-7,-9,-10,-9,-13,-9,-16,-8,16,-8,5,-8,1,-8,-2,-8,-5,-8,-8,-8,-11,-8,-14,-7,12,-7,7,-7,3,-7,0,-7,-3,-7,-6,-7,-9,-7,-12,-7,-15,-6,16,-6,10,-6,6,-6,2,-6,-1,-6,-4,-6,-7,-6,-10,-6,-13,-5,13,-5,8,-5,4,-5,0,-5,-3,-5,-6,-5,-9,-5,-13,-4,15,-4,9,-4,5,-4,2,-4,-2,-4,-5,-4,-8,-4,-11,-4,-14,-3,10,-3,6,-3,3,-3,0,-3,-3,-3,-6,-3,-9,-3,-12,-2,13,-2,8,-2,4,-2,1,-2,-2,-2,-5,-2,-8,-2,-12,-2,-16,-1,10,-1,6,-1,2,-1,-1,-1,-4,-1,-7,-1,-10,-1,-14,0,11,0,7,0,4,0,0,0,-3,0,-6,0,-9,0,-14,1,9,1,5,1,2,1,-1,1,-4,1,-7,1,-12,1,-16,2,14,2,8,2,4,2,1,2,-2,2,-5,2,-9,2,-13,3,24,3,11,3,6,3,3,3,0,3,-3,3,-6,3,-10,4,9,4,5,4,2,4,-1,4,-4,4,-8,4,-14,5,25,5,18,5,11,5,7,5,3,5,0,5,-3,5,-6,5,-13,6,13,6,8,6,5,6,1,6,-2,6,-6,6,-15,7,20,7,16,7,10,7,6,7,3,7,0,7,-4,7,-9,8,22,8,13,8,8,8,5,8,1,8,-3,8,-8,9,25,9,18,9,11,9,7,9,3,9,-1,9,-4,9,-17,10,15,10,10,10,6,10,2,10,-2,11,24,11,13,11,9,11,5,11,1,11,-4,12,28,12,19,12,12,12,8,12,4,12,-1,12,-8,13,30,13,22,13,15,13,11,13,7,13,2,13,-7,14,24,14,14,14,9,14,5,14,0,14,-4,15,20,15,16,15,12,15,7,15,2,16,26,16,18,16,14,16,10,16,5,17,27,17,21,17,16,17,12,17,7,17,2,18,26,18,20,18,15,18,10,18,5,19,29,19,22,19,17,19,12,19,7,20,37,20,25,20,20,20,15,20,9,20,4,21,33,21,28,21,18,21,13,21,7,22,26,22,20,22,15,22,10,22,5,23,40,23,28,23,23,23,17,23,12,23,7,24,30,24,25,24,19,24,13,24,8,25,27,25,21,25,16,25,11,26,29,26,23,26,17,26,12,27,43,27,39,27,31,27,25,27,20,27,13,27,3,28,45,28,34,28,27,28,22,28,14,28,7,29,30,29,24,29,17,29,10,29,4,30,38,30,32,30,26,30,19,30,11,31,42,31,35,31,28,31,21,31,10,32,43,32,31,32,24,32,16,33,37,33,33,33,27,33,22,33,13,34,39,34,30,34,24,34,18,35,36,35,32,35,25,35,11,36,39,36,34,36,26,36,19,37,56,37,46,37,38,37,32,37,27,37,21,38,47,38,42,38,35,38,29,38,18,39,66,39,44,39,40,39,34,39,28,39,20,40,52,40,62,40,44,40,35,40,24,41,51,41,42,41,37,41,29,42,50,42,56,42,42,42,34,42,27,43,52,43,42,43,38,43,30,44,72,44,51,44,61,44,42,44,35,44,30,45,63,45,50,45,44,45,38,45,24,45,22,46,47,46,41,46,36,46,32,47,52,47,57,47,45,47,38,48,60,48,53,48,46,48,35,49,71,49,60,49,55,49,48,50,82,50,79,50,73,50,66,50,58,50,48,50,24,51,84,51,65,51,60,51,52,52,68,52,64,52,59,52,37,53,78,53,67,53,57,53,55,54,94,54,72,54,62,54,52,55,88,55,74,55,70,55,64,55,55,55,49,56,81,56,77,56,71,56,62,56,52,57,76,57,68,57,60,58,78,58,72,58,65,59,92,59,76,59,72,60,70,60,74,61,93,67,108];

const lineXA=[-51,48.5], lineYA=[-46,44];
const lineXB=[-51,48.5], lineYB=[-44,42];
const lineXC=[-51,48.5], lineYC=[-43,41];
const lineXD=[-40,51.5], lineYD=[-33.5,42.5];
const lineXE=[-40,51.5], lineYE=[-32,41];
const lineXF=[-25.5,67], lineYF=[-24,62];

const ticks6=[-0.06,-0.04,-0.02,0,0.02,0.04,0.06];
const ticks8=[-0.06,-0.04,-0.02,0,0.02,0.04,0.06,0.08];
const ticks12=[-0.06,-0.04,-0.02,0,0.02,0.04,0.06,0.08,0.10,0.12];
const ticks12b=[-0.04,-0.02,0,0.02,0.04,0.06,0.08,0.10,0.12];
const ticks8b=[-0.04,-0.02,0,0.02,0.04,0.06,0.08];
const ticksFx=[-0.04,-0.02,0,0.02,0.04,0.06,0.08];

const panels=[
 {k:"A",xl:"Fibroblasts E1",yl:"Sperm E1",pts:pointsA.concat(extraA),lx:lineXA,ly:lineYA,xt:ticks6,yt:ticks6,left:0,top:0,ml:41,w:389,ldx:23,ldy:15},
 {k:"B",xl:"ESC E1",yl:"Sperm E1",pts:pointsB,lx:lineXB,ly:lineYB,xt:ticks6,yt:ticks8,left:400,top:0,ml:48,w:378,ldx:27,ldy:15},
 {k:"C",xl:"cortex E1",yl:"Sperm E1",pts:pointsC,lx:lineXC,ly:lineYC,xt:ticks6,yt:ticks12,left:0,top:303,ml:41,w:389,ldx:27,ldy:15},
 {k:"D",xl:"ESC E1",yl:"Fibroblasts E1",pts:pointsD.concat(extraD),lx:lineXD,ly:lineYD,xt:ticks6,yt:ticks8b,left:400,top:303,ml:48,w:378,ldx:27,ldy:15},
 {k:"E",xl:"cortex E1",yl:"Fibroblasts E1",pts:pointsE.concat(extraE),lx:lineXE,ly:lineYE,xt:ticks6,yt:ticks12b,left:0,top:606,ml:41,w:389,ldx:27,ldy:15},
 {k:"F",xl:"cortex E1",yl:"ESC E1",pts:pointsF,lx:lineXF,ly:lineYF,xt:ticksFx,yt:ticks12b,left:400,top:606,ml:48,w:378,ldx:22,ldy:15}
];
const sans="Liberation Sans", tickFont="DejaVu Sans", ink="#333";
for(const p of panels){
  const table=[];
  for(let i=0;i<p.pts.length;i+=2) table.push({x:p.pts[i]/1000,y:p.pts[i+1]/1000});
  const fit=p.lx.map((x,i)=>({x:x/1000,y:p.ly[i]/1000}));
  const xd=d3.extent(p.xt), yd=d3.extent(p.yt);
  const fmt=d3.format(".2f");
  const common={tickSize:-4,label:null,stroke:"#555"};
  const svg=Plot.plot({
    width:p.w,height:266,marginLeft:p.ml,marginRight:p.w-p.ml-319,marginTop:5,marginBottom:30,
    style:{background:"transparent"},
    x:{domain:xd},y:{domain:yd},
    marks:[
      Plot.dot(table,{x:"x",y:"y",r:2.6,fill:"#0a0aa8",stroke:"#05053a",strokeWidth:0.7}),
      Plot.line(fit,{x:"x",y:"y",stroke:"#c8323c",strokeWidth:1.1}),
      Plot.frame({stroke:"#555",strokeWidth:1.2}),
      Plot.axisX(p.xt,{anchor:"bottom",...common,tickPadding:8,tickFormat:fmt,fontSize:8.2,fontFamily:tickFont,color:ink}),
      Plot.axisX(p.xt,{anchor:"top",...common,text:null}),
      Plot.axisY(p.yt,{anchor:"left",...common,tickPadding:7.5,tickFormat:fmt,fontSize:8.2,fontFamily:tickFont,color:ink}),
      Plot.axisY(p.yt,{anchor:"right",...common,text:null}),
      Plot.text([p.xl],{frameAnchor:"bottom",lineAnchor:"middle",dy:22,fontSize:15,fontFamily:sans,fill:"#111"}),
      Plot.text([p.yl],{frameAnchor:"left",textAnchor:"middle",lineAnchor:"middle",dx:-33,rotate:-90,fontSize:15,fontFamily:sans,fill:"#111"}),
      Plot.text([p.k],{frameAnchor:"top-left",textAnchor:"middle",lineAnchor:"middle",dx:p.ldx,dy:p.ldy,fontSize:26,fontWeight:"bold",fontFamily:sans,fill:"#000"})
    ]
  });
  svg.style.left=p.left+"px"; svg.style.top=p.top+"px";
  document.getElementById("chart").appendChild(svg);
}
</script></body></html>
